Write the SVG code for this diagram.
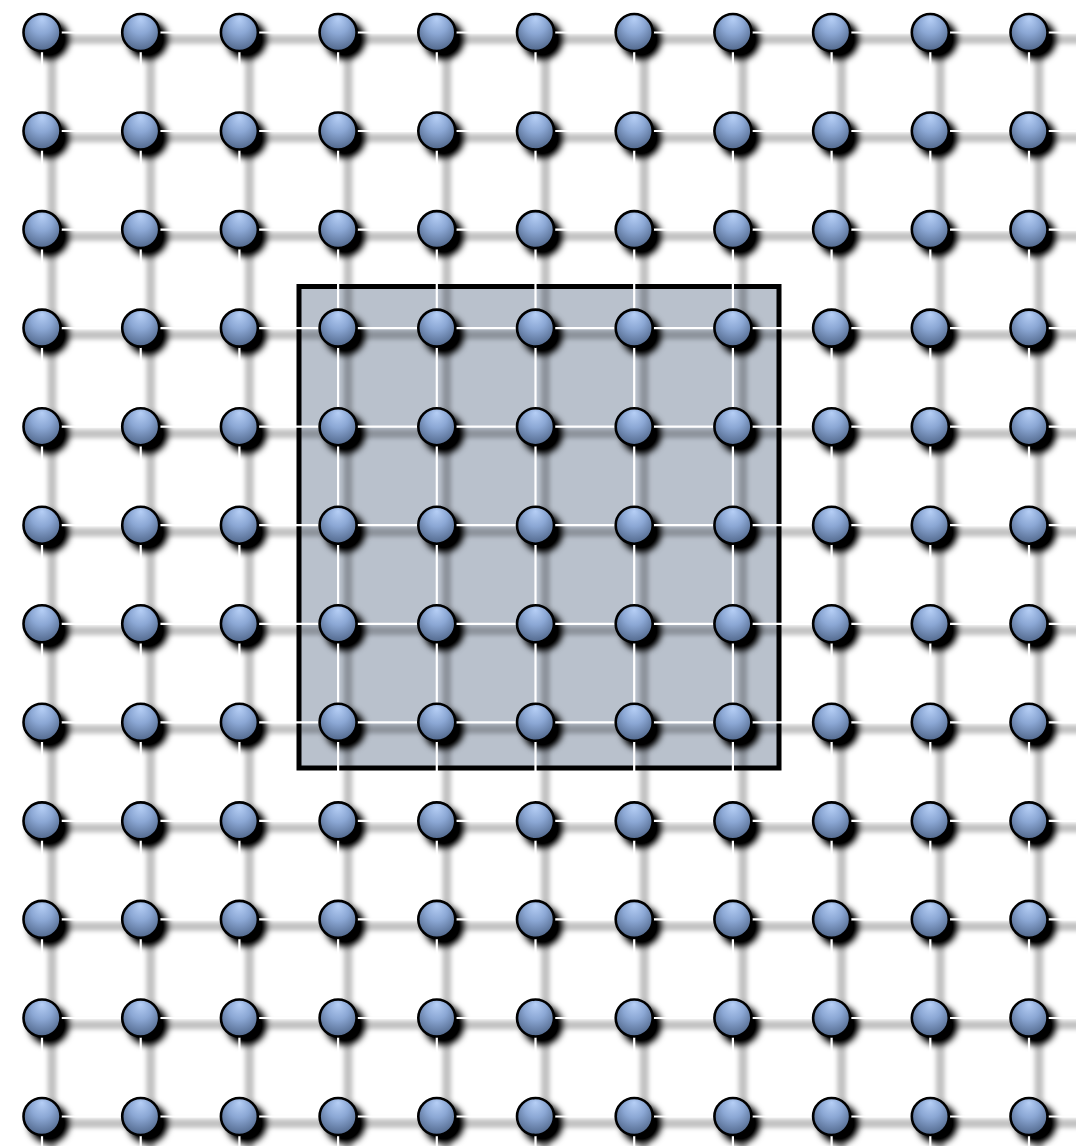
<svg xmlns="http://www.w3.org/2000/svg" xmlns:xlink="http://www.w3.org/1999/xlink" width="1076" height="1146" viewBox="0 0 1076 1146">
<defs>
<radialGradient id="ballGrad" cx="0.5" cy="0.4" r="0.65" fx="0.5" fy="0.12">
<stop offset="0" stop-color="#b6cff6"/>
<stop offset="0.45" stop-color="#8ba7d4"/>
<stop offset="1" stop-color="#4b6184"/>
</radialGradient>
<filter id="nodeShadow" filterUnits="userSpaceOnUse" x="0" y="0" width="1076" height="1146">
<feGaussianBlur in="SourceAlpha" stdDeviation="3.8"/>
<feOffset dx="7" dy="7"/>
<feComponentTransfer><feFuncA type="linear" slope="1.15"/></feComponentTransfer>
</filter>
<filter id="lineShadow" filterUnits="userSpaceOnUse" x="0" y="0" width="1076" height="1146">
<feGaussianBlur stdDeviation="2.2"/>
</filter>
<circle id="ball" r="18.5" fill="url(#ballGrad)" stroke="#000" stroke-width="2.6"/>
</defs>
<style>
.wire{fill:none;stroke:#fff;stroke-width:2.2}
.wshadow{fill:none;stroke:#000;stroke-opacity:0.24;stroke-width:9}
</style>
<rect width="1076" height="1146" fill="#fff"/>
<g id="region">
<rect x="299" y="286.5" width="480" height="481.5" fill="#b9c1cc" stroke="#000" stroke-width="5"/>
</g>
<g id="connector-shadows" filter="url(#lineShadow)">
<path class="wshadow" transform="translate(10,7)" d="M42 32.5H1090M42 131H1090M42 229.6H1090M42 328.1H1090M42 426.7H1090M42 525.2H1090M42 623.8H1090M42 722.3H1090M42 820.9H1090M42 919.4H1090M42 1018H1090M42 1116.5H1090M42 32.5V1160M140.7 32.5V1160M239.4 32.5V1160M338.1 32.5V1160M436.8 32.5V1160M535.5 32.5V1160M634.2 32.5V1160M732.9 32.5V1160M831.6 32.5V1160M930.3 32.5V1160M1029 32.5V1160"/>
</g>
<use href="#nodes" filter="url(#nodeShadow)"/>
<g id="connectors">
<path class="wire" d="M42 32.5H1076M42 131H1076M42 229.6H1076M42 328.1H1076M42 426.7H1076M42 525.2H1076M42 623.8H1076M42 722.3H1076M42 820.9H1076M42 919.4H1076M42 1018H1076M42 1116.5H1076M42 32.5V1146M140.7 32.5V1146M239.4 32.5V1146M338.1 32.5V1146M436.8 32.5V1146M535.5 32.5V1146M634.2 32.5V1146M732.9 32.5V1146M831.6 32.5V1146M930.3 32.5V1146M1029 32.5V1146"/>
</g>
<g id="nodes">
<g id="n-0-0"><use href="#ball" x="42" y="32.5"/></g>
<g id="n-0-1"><use href="#ball" x="140.7" y="32.5"/></g>
<g id="n-0-2"><use href="#ball" x="239.4" y="32.5"/></g>
<g id="n-0-3"><use href="#ball" x="338.1" y="32.5"/></g>
<g id="n-0-4"><use href="#ball" x="436.8" y="32.5"/></g>
<g id="n-0-5"><use href="#ball" x="535.5" y="32.5"/></g>
<g id="n-0-6"><use href="#ball" x="634.2" y="32.5"/></g>
<g id="n-0-7"><use href="#ball" x="732.9" y="32.5"/></g>
<g id="n-0-8"><use href="#ball" x="831.6" y="32.5"/></g>
<g id="n-0-9"><use href="#ball" x="930.3" y="32.5"/></g>
<g id="n-0-10"><use href="#ball" x="1029" y="32.5"/></g>
<g id="n-1-0"><use href="#ball" x="42" y="131"/></g>
<g id="n-1-1"><use href="#ball" x="140.7" y="131"/></g>
<g id="n-1-2"><use href="#ball" x="239.4" y="131"/></g>
<g id="n-1-3"><use href="#ball" x="338.1" y="131"/></g>
<g id="n-1-4"><use href="#ball" x="436.8" y="131"/></g>
<g id="n-1-5"><use href="#ball" x="535.5" y="131"/></g>
<g id="n-1-6"><use href="#ball" x="634.2" y="131"/></g>
<g id="n-1-7"><use href="#ball" x="732.9" y="131"/></g>
<g id="n-1-8"><use href="#ball" x="831.6" y="131"/></g>
<g id="n-1-9"><use href="#ball" x="930.3" y="131"/></g>
<g id="n-1-10"><use href="#ball" x="1029" y="131"/></g>
<g id="n-2-0"><use href="#ball" x="42" y="229.6"/></g>
<g id="n-2-1"><use href="#ball" x="140.7" y="229.6"/></g>
<g id="n-2-2"><use href="#ball" x="239.4" y="229.6"/></g>
<g id="n-2-3"><use href="#ball" x="338.1" y="229.6"/></g>
<g id="n-2-4"><use href="#ball" x="436.8" y="229.6"/></g>
<g id="n-2-5"><use href="#ball" x="535.5" y="229.6"/></g>
<g id="n-2-6"><use href="#ball" x="634.2" y="229.6"/></g>
<g id="n-2-7"><use href="#ball" x="732.9" y="229.6"/></g>
<g id="n-2-8"><use href="#ball" x="831.6" y="229.6"/></g>
<g id="n-2-9"><use href="#ball" x="930.3" y="229.6"/></g>
<g id="n-2-10"><use href="#ball" x="1029" y="229.6"/></g>
<g id="n-3-0"><use href="#ball" x="42" y="328.1"/></g>
<g id="n-3-1"><use href="#ball" x="140.7" y="328.1"/></g>
<g id="n-3-2"><use href="#ball" x="239.4" y="328.1"/></g>
<g id="n-3-3"><use href="#ball" x="338.1" y="328.1"/></g>
<g id="n-3-4"><use href="#ball" x="436.8" y="328.1"/></g>
<g id="n-3-5"><use href="#ball" x="535.5" y="328.1"/></g>
<g id="n-3-6"><use href="#ball" x="634.2" y="328.1"/></g>
<g id="n-3-7"><use href="#ball" x="732.9" y="328.1"/></g>
<g id="n-3-8"><use href="#ball" x="831.6" y="328.1"/></g>
<g id="n-3-9"><use href="#ball" x="930.3" y="328.1"/></g>
<g id="n-3-10"><use href="#ball" x="1029" y="328.1"/></g>
<g id="n-4-0"><use href="#ball" x="42" y="426.7"/></g>
<g id="n-4-1"><use href="#ball" x="140.7" y="426.7"/></g>
<g id="n-4-2"><use href="#ball" x="239.4" y="426.7"/></g>
<g id="n-4-3"><use href="#ball" x="338.1" y="426.7"/></g>
<g id="n-4-4"><use href="#ball" x="436.8" y="426.7"/></g>
<g id="n-4-5"><use href="#ball" x="535.5" y="426.7"/></g>
<g id="n-4-6"><use href="#ball" x="634.2" y="426.7"/></g>
<g id="n-4-7"><use href="#ball" x="732.9" y="426.7"/></g>
<g id="n-4-8"><use href="#ball" x="831.6" y="426.7"/></g>
<g id="n-4-9"><use href="#ball" x="930.3" y="426.7"/></g>
<g id="n-4-10"><use href="#ball" x="1029" y="426.7"/></g>
<g id="n-5-0"><use href="#ball" x="42" y="525.2"/></g>
<g id="n-5-1"><use href="#ball" x="140.7" y="525.2"/></g>
<g id="n-5-2"><use href="#ball" x="239.4" y="525.2"/></g>
<g id="n-5-3"><use href="#ball" x="338.1" y="525.2"/></g>
<g id="n-5-4"><use href="#ball" x="436.8" y="525.2"/></g>
<g id="n-5-5"><use href="#ball" x="535.5" y="525.2"/></g>
<g id="n-5-6"><use href="#ball" x="634.2" y="525.2"/></g>
<g id="n-5-7"><use href="#ball" x="732.9" y="525.2"/></g>
<g id="n-5-8"><use href="#ball" x="831.6" y="525.2"/></g>
<g id="n-5-9"><use href="#ball" x="930.3" y="525.2"/></g>
<g id="n-5-10"><use href="#ball" x="1029" y="525.2"/></g>
<g id="n-6-0"><use href="#ball" x="42" y="623.8"/></g>
<g id="n-6-1"><use href="#ball" x="140.7" y="623.8"/></g>
<g id="n-6-2"><use href="#ball" x="239.4" y="623.8"/></g>
<g id="n-6-3"><use href="#ball" x="338.1" y="623.8"/></g>
<g id="n-6-4"><use href="#ball" x="436.8" y="623.8"/></g>
<g id="n-6-5"><use href="#ball" x="535.5" y="623.8"/></g>
<g id="n-6-6"><use href="#ball" x="634.2" y="623.8"/></g>
<g id="n-6-7"><use href="#ball" x="732.9" y="623.8"/></g>
<g id="n-6-8"><use href="#ball" x="831.6" y="623.8"/></g>
<g id="n-6-9"><use href="#ball" x="930.3" y="623.8"/></g>
<g id="n-6-10"><use href="#ball" x="1029" y="623.8"/></g>
<g id="n-7-0"><use href="#ball" x="42" y="722.3"/></g>
<g id="n-7-1"><use href="#ball" x="140.7" y="722.3"/></g>
<g id="n-7-2"><use href="#ball" x="239.4" y="722.3"/></g>
<g id="n-7-3"><use href="#ball" x="338.1" y="722.3"/></g>
<g id="n-7-4"><use href="#ball" x="436.8" y="722.3"/></g>
<g id="n-7-5"><use href="#ball" x="535.5" y="722.3"/></g>
<g id="n-7-6"><use href="#ball" x="634.2" y="722.3"/></g>
<g id="n-7-7"><use href="#ball" x="732.9" y="722.3"/></g>
<g id="n-7-8"><use href="#ball" x="831.6" y="722.3"/></g>
<g id="n-7-9"><use href="#ball" x="930.3" y="722.3"/></g>
<g id="n-7-10"><use href="#ball" x="1029" y="722.3"/></g>
<g id="n-8-0"><use href="#ball" x="42" y="820.9"/></g>
<g id="n-8-1"><use href="#ball" x="140.7" y="820.9"/></g>
<g id="n-8-2"><use href="#ball" x="239.4" y="820.9"/></g>
<g id="n-8-3"><use href="#ball" x="338.1" y="820.9"/></g>
<g id="n-8-4"><use href="#ball" x="436.8" y="820.9"/></g>
<g id="n-8-5"><use href="#ball" x="535.5" y="820.9"/></g>
<g id="n-8-6"><use href="#ball" x="634.2" y="820.9"/></g>
<g id="n-8-7"><use href="#ball" x="732.9" y="820.9"/></g>
<g id="n-8-8"><use href="#ball" x="831.6" y="820.9"/></g>
<g id="n-8-9"><use href="#ball" x="930.3" y="820.9"/></g>
<g id="n-8-10"><use href="#ball" x="1029" y="820.9"/></g>
<g id="n-9-0"><use href="#ball" x="42" y="919.4"/></g>
<g id="n-9-1"><use href="#ball" x="140.7" y="919.4"/></g>
<g id="n-9-2"><use href="#ball" x="239.4" y="919.4"/></g>
<g id="n-9-3"><use href="#ball" x="338.1" y="919.4"/></g>
<g id="n-9-4"><use href="#ball" x="436.8" y="919.4"/></g>
<g id="n-9-5"><use href="#ball" x="535.5" y="919.4"/></g>
<g id="n-9-6"><use href="#ball" x="634.2" y="919.4"/></g>
<g id="n-9-7"><use href="#ball" x="732.9" y="919.4"/></g>
<g id="n-9-8"><use href="#ball" x="831.6" y="919.4"/></g>
<g id="n-9-9"><use href="#ball" x="930.3" y="919.4"/></g>
<g id="n-9-10"><use href="#ball" x="1029" y="919.4"/></g>
<g id="n-10-0"><use href="#ball" x="42" y="1018"/></g>
<g id="n-10-1"><use href="#ball" x="140.7" y="1018"/></g>
<g id="n-10-2"><use href="#ball" x="239.4" y="1018"/></g>
<g id="n-10-3"><use href="#ball" x="338.1" y="1018"/></g>
<g id="n-10-4"><use href="#ball" x="436.8" y="1018"/></g>
<g id="n-10-5"><use href="#ball" x="535.5" y="1018"/></g>
<g id="n-10-6"><use href="#ball" x="634.2" y="1018"/></g>
<g id="n-10-7"><use href="#ball" x="732.9" y="1018"/></g>
<g id="n-10-8"><use href="#ball" x="831.6" y="1018"/></g>
<g id="n-10-9"><use href="#ball" x="930.3" y="1018"/></g>
<g id="n-10-10"><use href="#ball" x="1029" y="1018"/></g>
<g id="n-11-0"><use href="#ball" x="42" y="1116.5"/></g>
<g id="n-11-1"><use href="#ball" x="140.7" y="1116.5"/></g>
<g id="n-11-2"><use href="#ball" x="239.4" y="1116.5"/></g>
<g id="n-11-3"><use href="#ball" x="338.1" y="1116.5"/></g>
<g id="n-11-4"><use href="#ball" x="436.8" y="1116.5"/></g>
<g id="n-11-5"><use href="#ball" x="535.5" y="1116.5"/></g>
<g id="n-11-6"><use href="#ball" x="634.2" y="1116.5"/></g>
<g id="n-11-7"><use href="#ball" x="732.9" y="1116.5"/></g>
<g id="n-11-8"><use href="#ball" x="831.6" y="1116.5"/></g>
<g id="n-11-9"><use href="#ball" x="930.3" y="1116.5"/></g>
<g id="n-11-10"><use href="#ball" x="1029" y="1116.5"/></g>
</g>
</svg>
